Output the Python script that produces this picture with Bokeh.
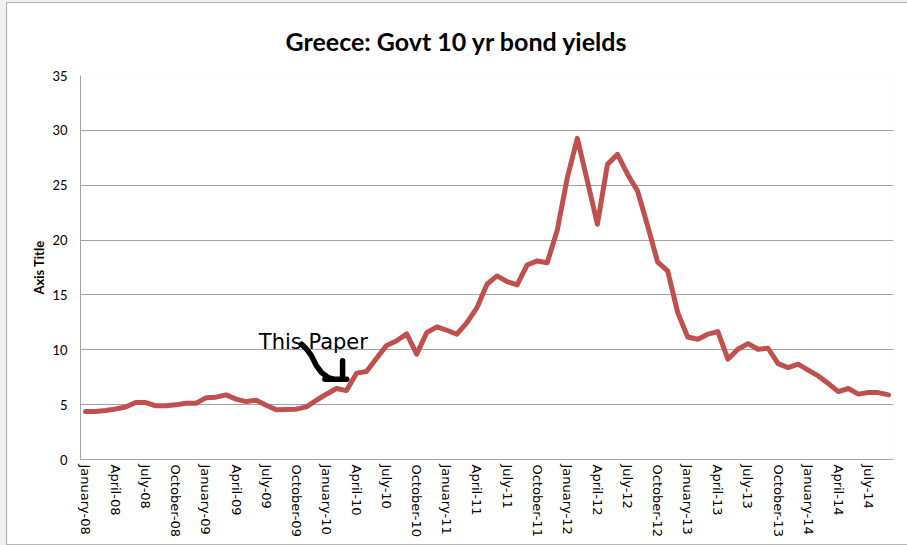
from bokeh.plotting import figure
from bokeh.models import FixedTicker, Label, Range1d
from bokeh.embed import file_html
from bokeh.resources import INLINE

# ---- data (monthly, January 2008 .. September 2014) ----
yields_2008 = [4.37, 4.37, 4.46, 4.60, 4.78, 5.19, 5.19, 4.89, 4.89, 4.98, 5.13, 5.13]
yields_2009 = [5.62, 5.68, 5.89, 5.50, 5.28, 5.40, 4.95, 4.53, 4.56, 4.59, 4.80, 5.40]
yields_2010 = [5.95, 6.47, 6.28, 7.87, 8.02, 9.22, 10.40, 10.82, 11.45, 9.60, 11.57, 12.09]
yields_2011 = [11.78, 11.42, 12.48, 13.84, 15.97, 16.73, 16.21, 15.91, 17.73, 18.10, 17.94, 20.90]
yields_2012 = [25.68, 29.27, 25.38, 21.44, 26.90, 27.81, 26.00, 24.47, 21.30, 18.00, 17.19, 13.39]
yields_2013 = [11.17, 10.96, 11.42, 11.66, 9.14, 10.05, 10.56, 10.05, 10.14, 8.74, 8.38, 8.69]
yields_2014 = [8.14, 7.62, 6.92, 6.19, 6.47, 5.96, 6.10, 6.10, 5.89]

tick_labels = [
    "January-08", "April-08", "July-08", "October-08",
    "January-09", "April-09", "July-09", "October-09",
    "January-10", "April-10", "July-10", "October-10",
    "January-11", "April-11", "July-11", "October-11",
    "January-12", "April-12", "July-12", "October-12",
    "January-13", "April-13", "July-13", "October-13",
    "January-14", "April-14", "July-14",
]
y_ticks = [0, 5, 10, 15, 20, 25, 30, 35]

title_text = "Greece: Govt 10 yr bond yields"
y_axis_title = "Axis Title"
note_text = "This Paper"

yields = yields_2008 + yields_2009 + yields_2010 + yields_2011 + yields_2012 + yields_2013 + yields_2014
months = list(range(len(yields)))
tick_pos = [3 * i for i in range(len(tick_labels))]

grey = "#a3a3a3"

p = figure(width=900, height=541, output_backend="svg", toolbar_location=None,
           x_range=Range1d(-0.5, len(yields) - 0.5), y_range=Range1d(0, 35),
           min_border_left=73, min_border_right=14, min_border_top=72, min_border_bottom=85,
           styles={"outline": "1px solid #b4b4b4"})
p.outline_line_color = None
p.background_fill_color = "white"
p.border_fill_color = "white"

# title
p.title.text = title_text
p.title.align = "left"
p.title.offset = 205
p.title.standoff = 40
p.title.text_font = "Lato"
p.title.text_font_style = "bold"
p.title.text_font_size = "25px"
p.title.text_color = "black"

p.line(months, yields, line_color="#c0504d", line_width=5, line_join="round", line_cap="round")

# x axis
p.xaxis.ticker = FixedTicker(ticks=tick_pos)
p.xaxis.major_label_overrides = {t: s for t, s in zip(tick_pos, tick_labels)}
p.xaxis.major_label_orientation = "vertical"
p.xaxis.major_label_text_font = "DejaVu Sans"
p.xaxis.major_label_text_font_size = "13px"
p.xaxis.major_label_text_color = "black"
p.xaxis.major_tick_line_color = None
p.xaxis.major_tick_out = 0
p.xaxis.major_tick_in = 0
p.xaxis.minor_tick_line_color = None
p.xaxis.axis_line_color = grey
p.xaxis.major_label_standoff = 5

# y axis
p.yaxis.ticker = FixedTicker(ticks=y_ticks)
p.yaxis.major_label_text_font = "Lato"
p.yaxis.major_label_text_font_size = "13px"
p.yaxis.major_label_text_color = "black"
p.yaxis.major_tick_line_color = None
p.yaxis.major_tick_out = 0
p.yaxis.major_tick_in = 0
p.yaxis.minor_tick_line_color = None
p.yaxis.axis_line_color = grey
p.yaxis.major_label_standoff = 13
p.yaxis.axis_label = y_axis_title
p.yaxis.axis_label_text_font = "Lato"
p.yaxis.axis_label_text_font_style = "bold"
p.yaxis.axis_label_text_font_size = "13px"
p.yaxis.axis_label_text_color = "black"
p.yaxis.axis_label_standoff = 2

p.xgrid.grid_line_color = None
p.ygrid.grid_line_color = grey
p.ygrid.grid_line_width = 1

# hand-drawn annotation
p.add_layout(Label(x=17.27, y=10.72, text=note_text, text_align="left", text_baseline="alphabetic",
                   text_font="DejaVu Sans", text_font_size="21px", text_color="black"))
arrow_xs = [[21.53, 22.03, 22.52, 23.02, 23.52, 24.18, 24.6],
            [23.85, 26.02],
            [25.61, 25.61]]
arrow_ys = [[10.51, 10.05, 9.44, 8.53, 7.92, 7.47, 7.35],
            [7.32, 7.32],
            [8.99, 7.32]]
p.multi_line(arrow_xs, arrow_ys, line_color="black", line_width=5.5, line_cap="round", line_join="round")

html = file_html(p, INLINE)
html = html.replace("</head>",
                    "<style>html,body{margin:0;overflow:hidden;background:#f0f0f0;}"
                    "body{padding:3px 0 0 7px;}</style></head>", 1)
open("out.html", "w").write(html)
